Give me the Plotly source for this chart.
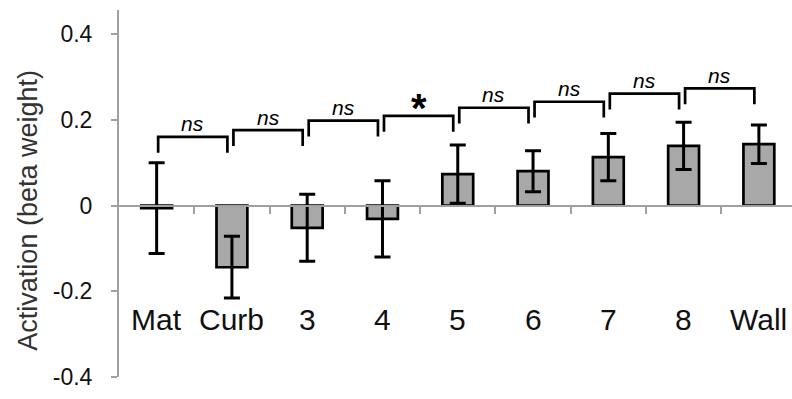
import plotly.graph_objects as go

categories = ["Mat", "Curb", "3", "4", "5", "6", "7", "8", "Wall"]
activation = [-0.006, -0.144, -0.052, -0.031, 0.073, 0.080, 0.113, 0.139, 0.143]
error = [0.106, 0.072, 0.078, 0.089, 0.068, 0.048, 0.055, 0.055, 0.045]

# significance brackets between neighbouring categories
bracket_height = [0.160, 0.176, 0.198, 0.209, 0.228, 0.242, 0.261, 0.273]
bracket_label = ["ns", "ns", "ns", "*", "ns", "ns", "ns", "ns"]

y_ticks = [-0.4, -0.2, 0, 0.2, 0.4]
y_ticktext = ["-0.4", "-0.2", "0", "0.2", "0.4"]

Y_MIN, Y_MAX = -0.4, 0.456
X_MIN, X_MAX = -0.5, 8.44
LEG = 0.037
LABEL_Y = -0.265

AXIS_GRAY = "#a0a0a0"
FONT = "Liberation Sans, Arial, sans-serif"

xs = list(range(len(categories)))

fig = go.Figure()
fig.add_trace(go.Bar(
    x=xs, y=activation, width=0.41,
    marker=dict(color="#a8a8a8", line=dict(color="black", width=2.7)),
    error_y=dict(type="data", array=error, visible=True,
                 color="black", thickness=3, width=8),
    showlegend=False, hoverinfo="skip",
))

for i, (h, lab) in enumerate(zip(bracket_height, bracket_label)):
    x0 = i + 0.02
    x1 = i + 0.94
    fig.add_trace(go.Scatter(
        x=[x0, x0, x1, x1], y=[h - LEG, h, h, h - LEG],
        mode="lines", line=dict(color="black", width=2.7),
        showlegend=False, hoverinfo="skip",
    ))
    if lab == "*":
        fig.add_annotation(x=(x0 + x1) / 2, y=h, xref="x", yref="y",
                           text="<b>*</b>", showarrow=False,
                           yanchor="middle", yshift=8,
                           font=dict(family=FONT, size=40, color="black"))
    else:
        fig.add_annotation(x=(x0 + x1) / 2, y=h, xref="x", yref="y",
                           text="<i>ns</i>", showarrow=False,
                           yanchor="middle", yshift=13,
                           font=dict(family=FONT, size=21, color="black"))

for x, c in zip(xs, categories):
    fig.add_annotation(x=x, y=LABEL_Y, xref="x", yref="y", text=c,
                       showarrow=False, yanchor="middle",
                       font=dict(family=FONT, size=30, color="#111111"))

fig.add_annotation(x=-0.1352, y=-0.012, xref="paper", yref="y",
                   text="Activation (beta weight)", textangle=-90,
                   showarrow=False, xanchor="center", yanchor="middle",
                   font=dict(family=FONT, size=27, color="#333333"))

boundaries = [i + 0.5 for i in xs]

fig.update_layout(
    width=792, height=399,
    margin=dict(l=119, r=0, t=10, b=22),
    paper_bgcolor="white", plot_bgcolor="white",
    font=dict(family=FONT, color="#111111"),
    bargap=0.59,
    xaxis=dict(range=[X_MIN, X_MAX], anchor="free",
               position=(0 - Y_MIN) / (Y_MAX - Y_MIN),
               showline=True, linecolor=AXIS_GRAY, linewidth=2,
               ticks="outside", tickvals=boundaries, ticklen=7,
               tickwidth=2, tickcolor=AXIS_GRAY,
               showticklabels=False, showgrid=False, zeroline=False),
    yaxis=dict(range=[Y_MIN, Y_MAX], tickvals=y_ticks, ticktext=y_ticktext,
               showline=True, linecolor=AXIS_GRAY, linewidth=2,
               ticks="outside", ticklen=6, tickwidth=2, tickcolor=AXIS_GRAY,
               ticklabelstandoff=14,
               tickfont=dict(family=FONT, size=23, color="#111111"),
               showgrid=False, zeroline=False),
)

fig.write_html("out.html")
